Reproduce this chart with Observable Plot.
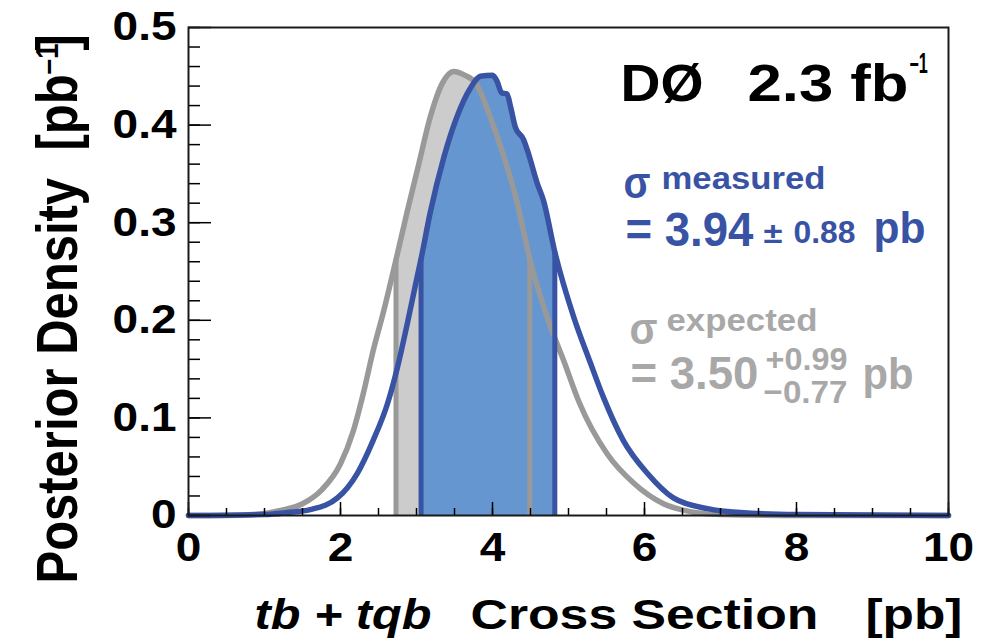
<!DOCTYPE html>
<html><head><meta charset="utf-8">
<script src="https://cdn.jsdelivr.net/npm/d3@7"></script>
<script src="https://cdn.jsdelivr.net/npm/@observablehq/plot@0.6"></script>
<style>
html,body{margin:0;padding:0;background:#fff;}
#chart svg{display:block;}
</style></head><body><div id="chart"></div>
<script>
// ---- data ----
const expectedX = [0, 0.5, 1.0, 1.2, 1.5, 1.75, 2.0, 2.17, 2.3, 2.43, 2.57, 2.73, 2.88, 3.03, 3.18, 3.34, 3.49, 3.64, 3.78, 3.97, 4.14, 4.32, 4.49, 4.72, 4.94, 5.14, 5.51, 5.86, 6.25, 6.6, 7.0, 8.0, 10];
const expectedY = [0, 0, 0.002, 0.005, 0.012, 0.026, 0.053, 0.087, 0.125, 0.169, 0.21, 0.262, 0.312, 0.360, 0.408, 0.443, 0.455, 0.451, 0.443, 0.408, 0.370, 0.322, 0.263, 0.203, 0.158, 0.116, 0.063, 0.033, 0.012, 0.004, 0.001, 0, 0];
const measuredX = [0, 1.0, 1.3, 1.6, 1.96, 2.22, 2.43, 2.62, 2.75, 2.88, 3.01, 3.06, 3.18, 3.36, 3.53, 3.71, 3.84, 4.0, 4.06, 4.12, 4.19, 4.24, 4.30, 4.41, 4.46, 4.59, 4.67, 4.82, 5.07, 5.29, 5.46, 5.72, 6.04, 6.38, 6.83, 7.26, 8.0, 10];
const measuredY = [0, 0.001, 0.003, 0.006, 0.018, 0.043, 0.077, 0.115, 0.152, 0.197, 0.245, 0.263, 0.310, 0.367, 0.408, 0.438, 0.450, 0.451, 0.445, 0.433, 0.432, 0.418, 0.398, 0.385, 0.374, 0.340, 0.323, 0.270, 0.203, 0.156, 0.121, 0.077, 0.043, 0.018, 0.007, 0.003, 0.001, 0];
const expectedInterval = [2.73, 4.49];
const measuredInterval = [3.06, 4.82];
const xTickValues = [0, 2, 4, 6, 8, 10];
const xTickLabels = ["0", "2", "4", "6", "8", "10"];
const yTickValues = [0, 0.1, 0.2, 0.3, 0.4, 0.5];
const yTickLabels = ["0", "0.1", "0.2", "0.3", "0.4", "0.5"];
const xMinorTicks = d3.range(0, 10.001, 0.5);
const yMinorTicks = d3.range(0, 0.5001, 0.02);

// ---- styles ----
const FONT = "'Liberation Sans', Arial, Helvetica, sans-serif";
const BLUE = "#3953a4", BLUE_FILL = "#6596cf", GRAY = "#999999", GRAY_FILL = "#cccccc", GRAY_TEXT = "#a8a8a8";
const W = 1000, H = 642, ML = 188, MR = 52, MT = 27, MB = 127;
const PW = W - ML - MR, PH = H - MT - MB;

const expected = expectedX.map((x, i) => ({x, y: expectedY[i]}));
const measured = measuredX.map((x, i) => ({x, y: measuredY[i]}));
const expBand = expected.filter(d => d.x >= expectedInterval[0] && d.x <= expectedInterval[1]);
const meaBand = measured.filter(d => d.x >= measuredInterval[0] && d.x <= measuredInterval[1]);
const expEdges = expected.filter(d => expectedInterval.includes(d.x));
const meaEdges = measured.filter(d => measuredInterval.includes(d.x));

// annotation / title layout (data units), font sizes, target widths in px
const labels = [
  {text: "DØ", x: 5.684, y: 0.4242, fs: 52, color: "black", w: 83},
  {text: "2.3 fb", x: 7.355, y: 0.4242, fs: 52, color: "black", w: 161},
  {text: "–1", x: 9.49, y: 0.4529, fs: 29, color: "black", w: 18},
  {text: "σ", x: 5.724, y: 0.3248, fs: 44, color: BLUE, w: 27},
  {text: "measured", x: 6.224, y: 0.335, fs: 31, color: BLUE, w: 164},
  {text: "= 3.94", x: 5.75, y: 0.2766, fs: 48, color: BLUE, w: 128},
  {text: "±", x: 7.566, y: 0.2787, fs: 30, color: BLUE, w: 19},
  {text: "0.88", x: 7.961, y: 0.2787, fs: 32, color: BLUE, w: 62},
  {text: "pb", x: 9.013, y: 0.2787, fs: 44, color: BLUE, w: 52},
  {text: "σ", x: 5.803, y: 0.1762, fs: 44, color: GRAY_TEXT, w: 28},
  {text: "expected", x: 6.289, y: 0.1895, fs: 32, color: GRAY_TEXT, w: 151},
  {text: "= 3.50", x: 5.816, y: 0.1301, fs: 46, color: GRAY_TEXT, w: 128},
  {text: "+0.99", x: 7.592, y: 0.1486, fs: 32, color: GRAY_TEXT, w: 82},
  {text: "−0.77", x: 7.566, y: 0.1148, fs: 32, color: GRAY_TEXT, w: 84},
  {text: "pb", x: 8.868, y: 0.1301, fs: 44, color: GRAY_TEXT, w: 51},
  {text: "tb + tqb", x: 0.868, y: -0.1158, fs: 42, color: "black", w: 177, italic: true},
  {text: "Cross Section", x: 3.711, y: -0.1158, fs: 42, color: "black", w: 348},
  {text: "[pb]", x: 8.908, y: -0.1158, fs: 42, color: "black", w: 97},
  {text: "Posterior Density", x: -1.461, y: -0.0697, fs: 49, color: "black", rotate: -90, stretch: 1.17},
  {text: "[pb", x: -1.461, y: 0.374, fs: 49, color: "black", rotate: -90, stretch: 1.17},
  {text: "–1", x: -1.711, y: 0.4518, fs: 28, color: "black", rotate: -90, stretch: 1.15},
  {text: "]", x: -1.461, y: 0.4764, fs: 49, color: "black", rotate: -90, stretch: 1.17}
];

const svg = Plot.plot({
  width: W, height: H,
  marginLeft: ML, marginRight: MR, marginTop: MT, marginBottom: MB,
  style: {fontFamily: FONT, background: "white"},
  x: {domain: [0, 10], axis: null},
  y: {domain: [0, 0.5], axis: null},
  marks: [
    Plot.areaY(expBand, {x: "x", y: "y", fill: GRAY_FILL, curve: "monotone-x"}),
    Plot.areaY(meaBand, {x: "x", y: "y", fill: BLUE_FILL, curve: "monotone-x"}),
    Plot.ruleX(expEdges, {x: "x", y1: 0, y2: "y", stroke: GRAY, strokeWidth: 5}),
    Plot.line(expected, {x: "x", y: "y", stroke: GRAY, strokeWidth: 5.5, curve: "monotone-x", strokeLinejoin: "round"}),
    Plot.ruleX(meaEdges, {x: "x", y1: 0, y2: "y", stroke: BLUE, strokeWidth: 5}),
    Plot.line(measured, {x: "x", y: "y", stroke: BLUE, strokeWidth: 5.5, curve: "monotone-x", strokeLinejoin: "round"}),
    Plot.ruleX(xMinorTicks, {x: d => d, insetTop: PH - 7, stroke: "black", strokeWidth: 1.5}),
    Plot.ruleX(xTickValues, {x: d => d, insetTop: PH - 13, stroke: "black", strokeWidth: 1.5}),
    Plot.ruleY(yMinorTicks, {y: d => d, insetRight: PW - 12, stroke: "black", strokeWidth: 1.5}),
    Plot.ruleY(yTickValues, {y: d => d, insetRight: PW - 23, stroke: "black", strokeWidth: 1.5}),
    Plot.frame({stroke: "#1a1a1a", strokeWidth: 2}),
    ...labels.map(d => Plot.text([d], {
      x: "x", y: "y", text: "text", fill: d.color, fontSize: d.fs, fontWeight: "bold", fontFamily: FONT,
      fontStyle: d.italic ? "italic" : "normal",
      textAnchor: "start", lineAnchor: "bottom", rotate: d.rotate || 0
    })),
    Plot.text(xTickValues, {x: d => d, frameAnchor: "bottom", text: (d, i) => xTickLabels[i],
      lineAnchor: "top", dy: 17, fontSize: 40, fontWeight: "bold", fontFamily: FONT, fill: "black"}),
    Plot.text(yTickValues, {y: d => d, frameAnchor: "left", text: (d, i) => yTickLabels[i],
      textAnchor: "end", dx: -12, fontSize: 40, fontWeight: "bold", fontFamily: FONT, fill: "black"})
  ]
});
document.getElementById("chart").appendChild(svg);

// horizontal stretch of the glyphs to match the reference's wide bold type
svg.querySelectorAll('g[aria-label="text"]').forEach((g, gi) => {
  const spec = gi < labels.length ? labels[gi] : null;
  g.querySelectorAll("text").forEach(t => {
    const tr = t.getAttribute("transform") || "";
    const x = parseFloat(t.getAttribute("x") || 0) || 0;
    if (spec && spec.rotate) {
      t.setAttribute("transform", `${tr} scale(1,${spec.stretch})`);
    } else {
      let s = 1.15;
      if (spec && spec.w) s = spec.w / t.getComputedTextLength();
      t.setAttribute("transform", `${tr} translate(${x},0) scale(${s},1) translate(${-x},0)`);
    }
  });
});
</script></body></html>
